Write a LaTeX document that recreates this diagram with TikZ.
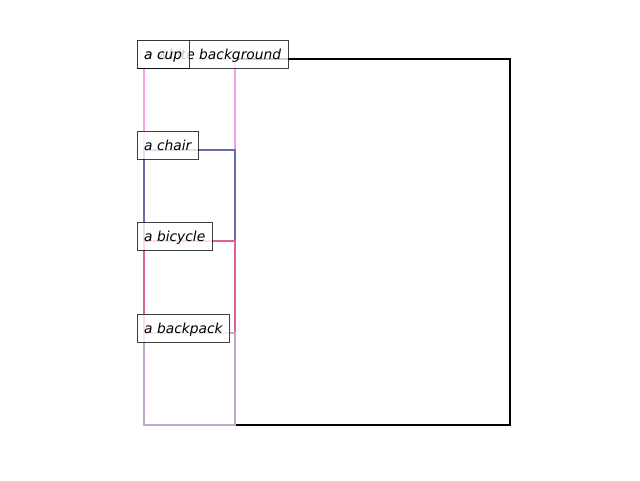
\documentclass[tikz,border=0pt]{standalone}
\usepackage{fontspec}
\setsansfont{DejaVu Sans}
\usetikzlibrary{positioning}

\definecolor{bgcol}{HTML}{000000}
\definecolor{cupcol}{HTML}{F5A0E6}
\definecolor{chaircol}{HTML}{6A6CAA}
\definecolor{bikecol}{HTML}{E0609A}
\definecolor{bagcol}{HTML}{C0A8C8}

\tikzset{
  region/.style={draw=#1, line width=2.4pt},
  tag/.style={draw=black, draw opacity=0.75, fill=white, fill opacity=0.8, text opacity=1,
    anchor=base west, inner xsep=7pt, inner ysep=0pt, text height=19pt, text depth=9pt,
    font=\sffamily\itshape\fontsize{13.8}{16}\selectfont},
}

\begin{document}
\begin{tikzpicture}[x=1pt,y=-1pt]
  \useasboundingbox (0,0) rectangle (640,480);
  % boxes
  \draw[region=bgcol] (144,59) rectangle (510,425);
  \draw[region=cupcol] (144,59) rectangle (235,425);
  \draw[region=chaircol] (144,150) rectangle (235,425);
  \draw[region=bikecol] (144,241) rectangle (235,425);
  \draw[region=bagcol] (144,333) rectangle (235,425);
  % labels
  \node[tag] (lblbg) at (137,59) {a white background};
  \node[tag] (lblcup) at (137,59) {a cup};
  \node[tag] (lblchair) at (137,150) {a chair};
  \node[tag] (lblbike) at (137,241) {a bicycle};
  \node[tag] (lblbag) at (137,333) {a backpack};
\end{tikzpicture}
\end{document}
